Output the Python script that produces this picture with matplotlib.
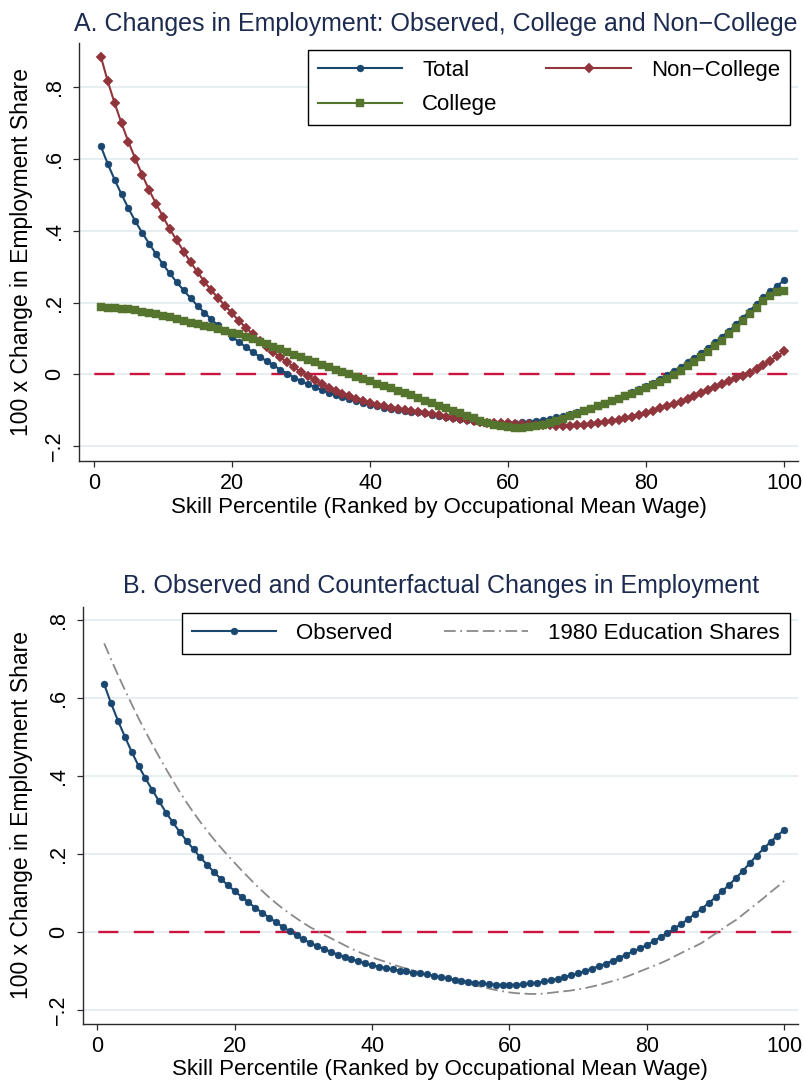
import matplotlib
matplotlib.use('Agg')
import matplotlib.pyplot as plt

plt.rcParams['font.family'] = ['Liberation Sans', 'DejaVu Sans']

# ---------------- data ----------------
percentile = list(range(1, 101))

total = [0.635, 0.586, 0.542, 0.501, 0.462, 0.426, 0.394, 0.364, 0.335, 0.306,
         0.281, 0.256, 0.234, 0.212, 0.191, 0.172, 0.153, 0.136, 0.120, 0.105,
         0.090, 0.076, 0.062, 0.049, 0.037, 0.025, 0.013, 0.002, -0.009, -0.019,
         -0.028, -0.036, -0.044, -0.051, -0.058, -0.064, -0.070, -0.075, -0.080, -0.085,
         -0.089, -0.093, -0.096, -0.099, -0.101, -0.104, -0.106, -0.109, -0.112, -0.115,
         -0.119, -0.122, -0.125, -0.128, -0.130, -0.132, -0.134, -0.135, -0.136, -0.136,
         -0.135, -0.134, -0.132, -0.130, -0.127, -0.124, -0.120, -0.116, -0.111, -0.106,
         -0.100, -0.094, -0.088, -0.081, -0.074, -0.066, -0.058, -0.050, -0.042, -0.033,
         -0.024, -0.013, -0.003, 0.009, 0.020, 0.033, 0.046, 0.060, 0.074, 0.089,
         0.105, 0.121, 0.139, 0.157, 0.177, 0.196, 0.214, 0.231, 0.247, 0.262]

non_college = [0.885, 0.816, 0.755, 0.699, 0.647, 0.600, 0.555, 0.513, 0.475, 0.439,
               0.404, 0.373, 0.342, 0.312, 0.285, 0.258, 0.234, 0.212, 0.191, 0.170,
               0.149, 0.130, 0.112, 0.094, 0.077, 0.061, 0.047, 0.033, 0.019, 0.007,
               -0.005, -0.016, -0.027, -0.037, -0.046, -0.054, -0.061, -0.068, -0.074, -0.080,
               -0.085, -0.089, -0.093, -0.097, -0.100, -0.103, -0.106, -0.108, -0.111, -0.114,
               -0.118, -0.122, -0.125, -0.128, -0.130, -0.133, -0.135, -0.136, -0.137, -0.137,
               -0.138, -0.138, -0.139, -0.140, -0.141, -0.142, -0.143, -0.143, -0.143, -0.142,
               -0.141, -0.139, -0.137, -0.134, -0.131, -0.127, -0.123, -0.118, -0.112, -0.107,
               -0.101, -0.095, -0.089, -0.083, -0.076, -0.069, -0.061, -0.053, -0.044, -0.035,
               -0.027, -0.019, -0.011, -0.004, 0.005, 0.015, 0.026, 0.038, 0.051, 0.064]

college = [0.187, 0.186, 0.185, 0.183, 0.181, 0.178, 0.174, 0.171, 0.167, 0.163,
           0.159, 0.154, 0.149, 0.144, 0.139, 0.135, 0.131, 0.127, 0.122, 0.116,
           0.111, 0.105, 0.098, 0.091, 0.084, 0.077, 0.070, 0.062, 0.054, 0.047,
           0.040, 0.033, 0.026, 0.019, 0.012, 0.006, 0.000, -0.007, -0.013, -0.019,
           -0.026, -0.033, -0.039, -0.046, -0.053, -0.059, -0.066, -0.073, -0.080, -0.087,
           -0.094, -0.101, -0.108, -0.115, -0.122, -0.129, -0.135, -0.140, -0.144, -0.147,
           -0.149, -0.149, -0.148, -0.145, -0.141, -0.136, -0.130, -0.124, -0.117, -0.110,
           -0.103, -0.096, -0.089, -0.082, -0.075, -0.068, -0.061, -0.054, -0.047, -0.039,
           -0.031, -0.022, -0.012, -0.001, 0.010, 0.022, 0.035, 0.049, 0.063, 0.078,
           0.094, 0.111, 0.129, 0.148, 0.167, 0.186, 0.204, 0.219, 0.228, 0.233]

educ1980 = [0.740, 0.699, 0.659, 0.621, 0.584, 0.548, 0.514, 0.481, 0.449, 0.418,
            0.388, 0.359, 0.332, 0.306, 0.282, 0.259, 0.237, 0.216, 0.196, 0.177,
            0.158, 0.140, 0.122, 0.105, 0.089, 0.074, 0.060, 0.047, 0.035, 0.023,
            0.012, 0.003, -0.007, -0.016, -0.025, -0.034, -0.043, -0.051, -0.058, -0.065,
            -0.071, -0.077, -0.083, -0.089, -0.094, -0.099, -0.104, -0.109, -0.113, -0.117,
            -0.121, -0.125, -0.129, -0.133, -0.137, -0.141, -0.145, -0.149, -0.152, -0.155,
            -0.157, -0.158, -0.159, -0.159, -0.158, -0.156, -0.154, -0.152, -0.150, -0.147,
            -0.144, -0.140, -0.136, -0.131, -0.126, -0.121, -0.115, -0.108, -0.101, -0.094,
            -0.087, -0.080, -0.072, -0.063, -0.054, -0.045, -0.037, -0.028, -0.016, -0.004,
            0.008, 0.020, 0.031, 0.045, 0.059, 0.073, 0.087, 0.102, 0.116, 0.131]

x_ticks = [0, 20, 40, 60, 80, 100]
y_ticks = [-0.2, 0, 0.2, 0.4, 0.6, 0.8]
y_ticklabels = ['\u2212.2', '0', '.2', '.4', '.6', '.8']

title_a = 'A. Changes in Employment: Observed, College and Non\u2212College'
title_b = 'B. Observed and Counterfactual Changes in Employment'
x_label = 'Skill Percentile (Ranked by Occupational Mean Wage)'
y_label = '100 x Change in Employment Share'

# ---------------- style ----------------
C_TOTAL = '#1a476f'
C_NONCOL = '#90353b'
C_COL = '#55752f'
C_CF = '#8a8a8a'
C_ZERO = '#cc1440'
C_GRID = '#e6eef1'
C_TITLE = '#1c2b4f'

FS_TITLE = 18
FS_TICK = 15.5
FS_LABEL = 16
FS_YLABEL = 16.5
FS_LEG = 16

W, H = 804, 1083
fig = plt.figure(figsize=(W / 100, H / 100), dpi=100)
fig.patch.set_facecolor('white')

axA = fig.add_axes([79 / W, 1 - 461 / H, 719 / W, 418 / H])
axB = fig.add_axes([82.7 / W, 1 - 1024 / H, 715.3 / W, 417.3 / H])


def style(ax, xlim, ylim, ylab_x, xlab_y):
    ax.set_xlim(*xlim)
    ax.set_ylim(*ylim)
    for s in ['top', 'right']:
        ax.spines[s].set_visible(False)
    for s in ['left', 'bottom']:
        ax.spines[s].set_color('#2a2a2a')
        ax.spines[s].set_linewidth(1.0)
    ax.set_xticks(x_ticks)
    ax.set_yticks(y_ticks)
    ax.set_yticklabels(y_ticklabels, rotation=90, va='center')
    ax.tick_params(direction='out', length=4, width=0.9, labelsize=FS_TICK,
                   colors='#2a2a2a', labelcolor='black')
    ax.tick_params(axis='x', pad=5)
    ax.tick_params(axis='y', pad=6)
    for y in y_ticks:
        ax.axhline(y, color=C_GRID, lw=1.4, zorder=0)
    ax.axhline(0, color=C_ZERO, lw=1.7, linestyle=(8.5, (8.5, 6.5)), zorder=1)
    ax.set_xlabel(x_label, fontsize=FS_LABEL)
    ax.set_ylabel(y_label, fontsize=FS_YLABEL)
    ax.xaxis.set_label_coords(0.5, xlab_y)
    ax.xaxis.label.set_va('center')
    ax.yaxis.set_label_coords(ylab_x, 0.5)
    ax.yaxis.label.set_va('center')


style(axA, (-2.17, 102.0), (-0.2415, 0.923), -0.080, -0.112)
style(axB, (-2.13, 102.0), (-0.236, 0.834), -0.085, -0.110)

# ---------------- panel A ----------------
hT, = axA.plot(percentile, total, color=C_TOTAL, lw=1.5, marker='o', ms=5.0,
               mew=0.3, mec=C_TOTAL, zorder=3)
hN, = axA.plot(percentile, non_college, color=C_NONCOL, lw=1.5, marker='D', ms=5.4,
               mew=0.3, mec=C_NONCOL, zorder=4)
hC, = axA.plot(percentile, college, color=C_COL, lw=1.5, marker='s', ms=5.2,
               mew=0.3, mec=C_COL, zorder=5)

legA = axA.legend([hT, hC, hN], ['Total', 'College', 'Non\u2212College'], ncol=2,
                  loc='upper right', bbox_to_anchor=(790 / W, 1 - 50 / H),
                  bbox_transform=fig.transFigure, fontsize=FS_LEG, frameon=True,
                  fancybox=False, edgecolor='black', framealpha=1,
                  handlelength=3.8, handletextpad=0.9, columnspacing=2.2,
                  labelspacing=0.6, borderpad=0.45, borderaxespad=0)
legA.get_frame().set_linewidth(1.0)

fig.text(436 / W, 1 - 31 / H, title_a, ha='center', va='baseline',
         fontsize=FS_TITLE, color=C_TITLE)

# ---------------- panel B ----------------
hO, = axB.plot(percentile, total, color=C_TOTAL, lw=1.5, marker='o', ms=5.0,
               mew=0.3, mec=C_TOTAL, zorder=4)
hE, = axB.plot(percentile, educ1980, color=C_CF, lw=1.3,
               linestyle=(0, (6.5, 2.5, 1.0, 2.5, 6.5, 2.5)), zorder=3)

legB = axB.legend([hO, hE], ['Observed', '1980 Education Shares'], ncol=2,
                  loc='upper right', bbox_to_anchor=(790 / W, 1 - 613 / H),
                  bbox_transform=fig.transFigure, fontsize=FS_LEG, frameon=True,
                  fancybox=False, edgecolor='black', framealpha=1,
                  handlelength=3.8, handletextpad=0.9, columnspacing=2.3,
                  borderpad=0.45, borderaxespad=0)
legB.get_frame().set_linewidth(1.0)

fig.text(441 / W, 1 - 593 / H, title_b, ha='center', va='baseline',
         fontsize=FS_TITLE, color=C_TITLE)

fig.savefig('out.png', dpi=100, facecolor='white')
